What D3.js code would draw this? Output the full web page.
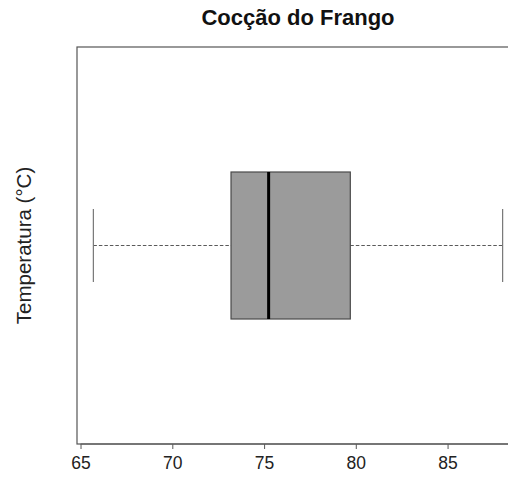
<!DOCTYPE html>
<html>
<head>
<meta charset="utf-8">
<script src="https://cdn.jsdelivr.net/npm/d3@7"></script>
<style>
  html, body { margin: 0; padding: 0; background: #fff; }
  svg { display: block; font-family: "Liberation Sans", Arial, sans-serif; }
</style>
</head>
<body>
<svg id="chart" width="508" height="477"></svg>
<script>
// Data
const title = "Cocção do Frango";
const yLabel = "Temperatura (°C)";
const statNames = ["min", "q1", "median", "q3", "max"];
const statValues = [65.7, 73.2, 75.25, 79.7, 88.0];
const xTicks = [65, 70, 75, 80, 85];

const stats = {};
statNames.forEach((n, i) => stats[n] = statValues[i]);

const svg = d3.select("#chart");
const plot = { left: 77, right: 519, top: 47, bottom: 444 };

const range = stats.max - stats.min;
const x = d3.scaleLinear()
  .domain([stats.min - 0.04 * range, stats.max + 0.04 * range])
  .range([plot.left, plot.right]);
const y = d3.scaleLinear().domain([0.5, 1.5]).range([plot.bottom, plot.top]);

const cy = y(1);
const boxH = 147;
const capH = 73;

// Frame
svg.append("rect")
  .attr("x", plot.left).attr("y", plot.top)
  .attr("width", plot.right - plot.left).attr("height", plot.bottom - plot.top)
  .attr("fill", "none").attr("stroke", "#555").attr("stroke-width", 1.2);

// Whiskers (dashed)
svg.append("line")
  .attr("x1", x(stats.min)).attr("x2", x(stats.q1))
  .attr("y1", cy).attr("y2", cy)
  .attr("stroke", "#5a5a5a").attr("stroke-width", 1.2).attr("stroke-dasharray", "3.5,2");
svg.append("line")
  .attr("x1", x(stats.q3)).attr("x2", x(stats.max))
  .attr("y1", cy).attr("y2", cy)
  .attr("stroke", "#5a5a5a").attr("stroke-width", 1.2).attr("stroke-dasharray", "3.5,2");

// Caps
[stats.min, stats.max].forEach(v => {
  svg.append("line")
    .attr("x1", x(v)).attr("x2", x(v))
    .attr("y1", cy - capH / 2).attr("y2", cy + capH / 2)
    .attr("stroke", "#777").attr("stroke-width", 1.2);
});

// Box
svg.append("rect")
  .attr("x", x(stats.q1)).attr("y", cy - boxH / 2)
  .attr("width", x(stats.q3) - x(stats.q1)).attr("height", boxH)
  .attr("fill", "#9b9b9b").attr("stroke", "#4a4a4a").attr("stroke-width", 1.2);

// Median
svg.append("line")
  .attr("x1", x(stats.median)).attr("x2", x(stats.median))
  .attr("y1", cy - boxH / 2).attr("y2", cy + boxH / 2)
  .attr("stroke", "#000").attr("stroke-width", 3);

// X axis
const xAxis = d3.axisBottom(x).tickValues(xTicks).tickSize(5).tickPadding(8)
  .tickFormat(d3.format("d"));
const gx = svg.append("g").attr("transform", `translate(0,${plot.bottom})`).call(xAxis);
gx.select(".domain").remove();
gx.append("line")
  .attr("x1", x(xTicks[0])).attr("x2", plot.right)
  .attr("y1", 0).attr("y2", 0)
  .attr("stroke", "#555").attr("stroke-width", 1.2);
gx.selectAll(".tick line").attr("stroke", "#666").attr("stroke-width", 1.1);
gx.selectAll(".tick text")
  .attr("fill", "#222")
  .style("font-size", "17.5px")
  .style("font-family", "'Liberation Sans', Arial, sans-serif");

// Title
svg.append("text")
  .attr("x", (plot.left + plot.right) / 2).attr("y", 25)
  .attr("text-anchor", "middle")
  .style("font-size", "22px").style("font-weight", "bold")
  .attr("fill", "#111")
  .text(title);

// Y label
svg.append("text")
  .attr("transform", `translate(31,${(plot.top + plot.bottom) / 2}) rotate(-90)`)
  .attr("text-anchor", "middle")
  .style("font-size", "20.5px")
  .attr("fill", "#222")
  .text(yLabel);
</script>
</body>
</html>
